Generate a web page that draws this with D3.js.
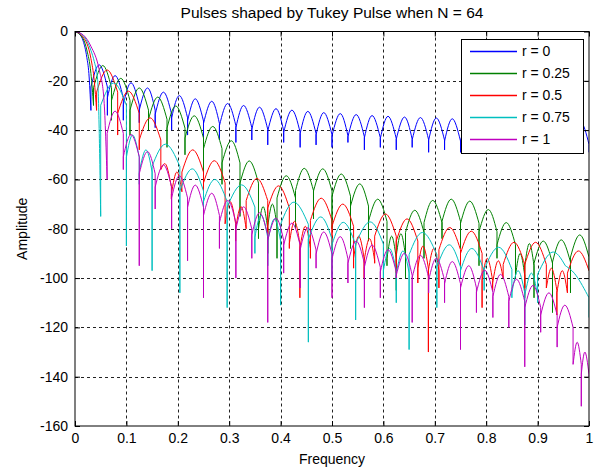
<!DOCTYPE html>
<html>
<head>
<meta charset="utf-8">
<script src="https://cdn.jsdelivr.net/npm/d3@7"></script>
<style>
  body { margin: 0; background: #fff; }
  svg { display: block; font-family: "Liberation Sans", Arial, sans-serif; }
</style>
</head>
<body>
<div id="chart"></div>
<script>
// Tick values
const xTicks = [0, 0.1, 0.2, 0.3, 0.4, 0.5, 0.6, 0.7, 0.8, 0.9, 1];
const yTicks = [0, -20, -40, -60, -80, -100, -120, -140, -160];

// Legend labels
const seriesNames = ["r = 0", "r = 0.25", "r = 0.5", "r = 0.75", "r = 1"];
const seriesColors = ["#0000ff", "#008000", "#ff0000", "#00bfbf", "#bf00bf"];

// Each series: main lobe points, then [null, peak, null, peak, ..., null] as [freq, dB]
const blueMain = [[0, 0], [0.008, -0.9], [0.016, -3.9], [0.023, -10.5], [0.027, -17]];
const blueLobes = [
  [0.031, -32], [0.047, -13.5], [0.063, -34], [0.078, -17.9], [0.094, -36], [0.109, -20.8],
  [0.125, -37], [0.141, -22.9], [0.156, -39], [0.172, -24.6], [0.188, -40], [0.203, -26.0],
  [0.219, -42], [0.234, -27.3], [0.25, -43], [0.266, -28.3], [0.281, -44], [0.297, -29.2],
  [0.313, -45], [0.328, -30.0], [0.344, -44], [0.359, -30.7], [0.375, -46], [0.391, -31.3],
  [0.406, -45], [0.422, -31.9], [0.438, -47], [0.453, -32.4], [0.469, -46], [0.484, -32.9],
  [0.5, -47], [0.516, -33.3], [0.531, -45], [0.547, -33.7], [0.563, -48], [0.578, -34.1],
  [0.594, -47], [0.609, -34.4], [0.625, -48], [0.641, -34.7], [0.656, -47], [0.672, -34.9],
  [0.688, -49], [0.703, -35.1], [0.719, -48], [0.734, -35.4], [0.75, -49], [0.766, -35.5],
  [0.781, -48], [0.797, -35.7], [0.813, -49], [0.828, -35.8], [0.844, -48], [0.859, -35.9],
  [0.875, -49], [0.891, -36.0], [0.906, -48], [0.922, -36.1], [0.938, -49], [0.953, -36.3],
  [0.969, -48], [0.984, -36.8], [1.0, -49]
];

const greenMain = [[0, 0], [0.016, -3], [0.023, -7.5], [0.031, -17]];
const greenLobes = [
  [0.036, -30], [0.054, -13.8], [0.071, -36], [0.089, -19.0], [0.107, -42], [0.125, -22.9],
  [0.143, -40], [0.161, -26.6], [0.179, -47], [0.196, -30.2], [0.214, -50], [0.232, -34.2],
  [0.25, -66], [0.268, -38.5], [0.286, -62], [0.304, -44.3], [0.321, -75], [0.339, -52.5],
  [0.357, -84], [0.366, -71], [0.375, -90], [0.384, -70], [0.393, -92], [0.411, -58.5],
  [0.429, -80], [0.446, -55.5], [0.464, -76], [0.482, -55.7], [0.5, -80], [0.518, -57.8],
  [0.536, -88], [0.554, -61.8], [0.571, -85], [0.589, -68], [0.607, -95], [0.616, -83],
  [0.625, -105], [0.634, -82], [0.643, -100], [0.661, -72.5], [0.679, -92], [0.696, -68.5],
  [0.714, -84], [0.732, -68], [0.75, -88], [0.768, -68.8], [0.786, -95], [0.804, -72.2],
  [0.821, -92], [0.839, -77.5], [0.857, -100], [0.866, -90], [0.875, -104], [0.884, -86],
  [0.893, -108], [0.911, -85], [0.929, -114], [0.946, -84.5], [0.964, -106], [0.982, -82.5],
  [1.0, -97]
];

const redMain = [[0, 0], [0.016, -2.3], [0.031, -11], [0.0375, -20]];
const redLobes = [
  [0.042, -32], [0.0625, -15.6], [0.083, -42], [0.104, -24.2], [0.125, -48], [0.146, -35],
  [0.167, -56], [0.177, -54], [0.1875, -68], [0.198, -57], [0.208, -65], [0.229, -48],
  [0.25, -70], [0.271, -52.4], [0.292, -78], [0.302, -69], [0.3125, -85], [0.323, -71],
  [0.333, -80], [0.354, -59.6], [0.375, -82], [0.396, -62.6], [0.417, -88], [0.427, -77],
  [0.4375, -108], [0.448, -79], [0.458, -92], [0.479, -67.6], [0.5, -88], [0.521, -70],
  [0.542, -96], [0.552, -83], [0.5625, -100], [0.573, -84], [0.583, -94], [0.604, -74],
  [0.625, -98], [0.646, -76], [0.667, -102], [0.677, -87], [0.6875, -130], [0.698, -88],
  [0.708, -104], [0.729, -79.5], [0.75, -96], [0.771, -81], [0.792, -112], [0.802, -92],
  [0.8125, -105], [0.823, -93], [0.833, -100], [0.854, -85.5], [0.875, -108], [0.896, -85.5],
  [0.917, -104], [0.927, -96], [0.9375, -115], [0.948, -97], [0.958, -106], [0.979, -89],
  [1.0, -97]
];

const cyanMain = [[0, 0], [0.016, -1.7], [0.031, -7.7], [0.0375, -12.2], [0.044, -19.5]];
const cyanLobes = [
  [0.05, -75], [0.075, -20.9], [0.1, -87], [0.112, -42], [0.125, -62], [0.138, -48],
  [0.15, -97], [0.176, -45.7], [0.204, -106], [0.228, -55.7], [0.25, -80], [0.272, -60],
  [0.296, -112], [0.324, -62.2], [0.35, -90], [0.362, -74.5], [0.375, -95], [0.388, -76],
  [0.4, -111], [0.426, -69.2], [0.454, -126], [0.478, -75.2], [0.5, -100], [0.522, -77.4],
  [0.546, -117], [0.574, -77.2], [0.6, -100], [0.612, -88], [0.625, -110], [0.638, -89],
  [0.65, -129], [0.676, -81.5], [0.704, -112], [0.728, -86.5], [0.75, -100], [0.772, -88],
  [0.796, -105], [0.824, -87.5], [0.85, -108], [0.862, -97], [0.875, -119], [0.888, -98],
  [0.9, -110], [0.928, -89.5], [0.954, -95], [0.975, -99], [1.0, -116]
];

const magentaMain = [[0, 0], [0.016, -1.4], [0.031, -6], [0.047, -15.4], [0.056, -26.7]];
const magentaLobes = [
  [0.0625, -60], [0.078, -32.3], [0.094, -56], [0.109, -41.8], [0.125, -95], [0.141, -48.7],
  [0.156, -72], [0.172, -54.1], [0.188, -80], [0.203, -58.5], [0.219, -93], [0.234, -62.3],
  [0.25, -108], [0.266, -65.6], [0.281, -88], [0.297, -68.5], [0.313, -100], [0.328, -71.1],
  [0.344, -92], [0.359, -73.5], [0.375, -118], [0.391, -75.7], [0.406, -98], [0.422, -77.7],
  [0.438, -104], [0.453, -79.6], [0.469, -96], [0.484, -81.3], [0.5, -108], [0.516, -83.2],
  [0.531, -102], [0.547, -85], [0.563, -112], [0.578, -86.6], [0.594, -108], [0.609, -88.5],
  [0.625, -100], [0.641, -89.9], [0.656, -118], [0.672, -90.8], [0.688, -106], [0.703, -92],
  [0.719, -110], [0.734, -93.3], [0.75, -129], [0.766, -95], [0.781, -114], [0.797, -96.8],
  [0.813, -116], [0.828, -98.5], [0.844, -120], [0.859, -100.5], [0.875, -136], [0.891, -103],
  [0.906, -122], [0.922, -106], [0.938, -128], [0.953, -111], [0.969, -135], [0.977, -126],
  [0.985, -152], [0.992, -130], [1.0, -140]
];

const series = [
  { main: blueMain, lobes: blueLobes },
  { main: greenMain, lobes: greenLobes },
  { main: redMain, lobes: redLobes },
  { main: cyanMain, lobes: cyanLobes },
  { main: magentaMain, lobes: magentaLobes }
];

const width = 597, height = 470;
const plotLeft = 75, plotRight = 589, plotTop = 31.5, plotBottom = 426;
// how far a lobe's arch falls before the null spike takes over (dB)
const shoulder = 9;

const x = d3.scaleLinear().domain([0, 1]).range([plotLeft, plotRight]);
const y = d3.scaleLinear().domain([-160, 0]).range([plotBottom, plotTop]);

const svg = d3.select("#chart").append("svg")
  .attr("width", width)
  .attr("height", height);

svg.append("rect").attr("width", width).attr("height", height).attr("fill", "#fff");

svg.append("defs").append("clipPath").attr("id", "plot-clip")
  .append("rect")
  .attr("x", plotLeft).attr("y", plotTop)
  .attr("width", plotRight - plotLeft).attr("height", plotBottom - plotTop);

// grid
const grid = svg.append("g").attr("class", "grid")
  .attr("stroke", "#222").attr("stroke-width", 1).attr("stroke-dasharray", "3,3");
grid.selectAll(".gx").data(xTicks.slice(1, -1)).enter().append("line")
  .attr("x1", d => Math.round(x(d)) + 0.5).attr("x2", d => Math.round(x(d)) + 0.5)
  .attr("y1", plotTop).attr("y2", plotBottom);
grid.selectAll(".gy").data(yTicks.slice(1, -1)).enter().append("line")
  .attr("y1", d => Math.round(y(d)) + 0.5).attr("y2", d => Math.round(y(d)) + 0.5)
  .attr("x1", plotLeft).attr("x2", plotRight);

const line = d3.line().x(d => x(d[0])).y(d => y(d[1]));

function spectrumPath(main, lobes) {
  let path = line.curve(d3.curveMonotoneX)(main.concat([lobes[0]]));
  for (let i = 1; i + 1 < lobes.length; i += 2) {
    const a = lobes[i - 1], p = lobes[i], b = lobes[i + 1];
    const l = [a[0], Math.max(a[1], p[1] - shoulder)];
    const r = [b[0], Math.max(b[1], p[1] - shoulder)];
    path += "L" + x(l[0]) + "," + y(l[1]);
    path += line.curve(d3.curveNatural)([l, p, r]).replace(/^M/, "L");
    path += "L" + x(b[0]) + "," + y(b[1]);
  }
  return path;
}

const plot = svg.append("g").attr("clip-path", "url(#plot-clip)");
plot.selectAll("path.spec")
  .data(series)
  .enter()
  .append("path")
  .attr("class", "spec")
  .attr("fill", "none")
  .attr("stroke", (d, i) => seriesColors[i])
  .attr("stroke-width", 1)
  .attr("stroke-linejoin", "miter")
  .attr("d", d => spectrumPath(d.main, d.lobes));

// axes, ticks inward on all four sides
const fmt = d => String(d);
const axisStyle = g => {
  g.select(".domain").remove();
  g.selectAll("line").attr("stroke", "#000");
  g.selectAll("text").attr("fill", "#000").style("font-size", "14px")
    .style("font-family", '"Liberation Sans", Arial, sans-serif');
};

svg.append("g").attr("transform", `translate(0,${plotBottom})`)
  .call(d3.axisBottom(x).tickValues(xTicks).tickFormat(fmt).tickSize(-5).tickPadding(7))
  .call(axisStyle);
svg.append("g").attr("transform", `translate(0,${plotTop})`)
  .call(d3.axisTop(x).tickValues(xTicks).tickFormat("").tickSize(-5))
  .call(axisStyle);
svg.append("g").attr("transform", `translate(${plotLeft},0)`)
  .call(d3.axisLeft(y).tickValues(yTicks).tickFormat(fmt).tickSize(-5).tickPadding(7))
  .call(axisStyle);
svg.append("g").attr("transform", `translate(${plotRight},0)`)
  .call(d3.axisRight(y).tickValues(yTicks).tickFormat("").tickSize(-5))
  .call(axisStyle);

svg.append("rect")
  .attr("x", plotLeft).attr("y", plotTop)
  .attr("width", plotRight - plotLeft).attr("height", plotBottom - plotTop)
  .attr("fill", "none").attr("stroke", "#000").attr("stroke-width", 1);

// legend
const legend = svg.append("g").attr("transform", "translate(461.5,39.5)");
legend.append("rect")
  .attr("width", 122).attr("height", 114)
  .attr("fill", "#fff").attr("stroke", "#000").attr("stroke-width", 1);
const items = legend.selectAll(".item").data(seriesNames).enter().append("g")
  .attr("transform", (d, i) => `translate(0,${12 + Math.round(i * 21.9)})`);
items.append("line")
  .attr("x1", 8.5).attr("x2", 55.5).attr("y1", 0).attr("y2", 0)
  .attr("stroke", (d, i) => seriesColors[i]).attr("stroke-width", 1.5);
items.append("text")
  .attr("x", 60.5).attr("dy", "0.35em")
  .style("font-size", "14px").attr("fill", "#000")
  .text(d => d);

// titles
svg.append("text")
  .attr("x", (plotLeft + plotRight) / 2).attr("y", 18)
  .attr("text-anchor", "middle").style("font-size", "15.5px")
  .text("Pulses shaped by Tukey Pulse when N = 64");
svg.append("text")
  .attr("x", (plotLeft + plotRight) / 2).attr("y", 464)
  .attr("text-anchor", "middle").style("font-size", "14px")
  .text("Frequency");
svg.append("text")
  .attr("transform", `translate(27,${(plotTop + plotBottom) / 2}) rotate(-90)`)
  .attr("text-anchor", "middle").style("font-size", "14px")
  .text("Amplitude");
</script>
</body>
</html>
